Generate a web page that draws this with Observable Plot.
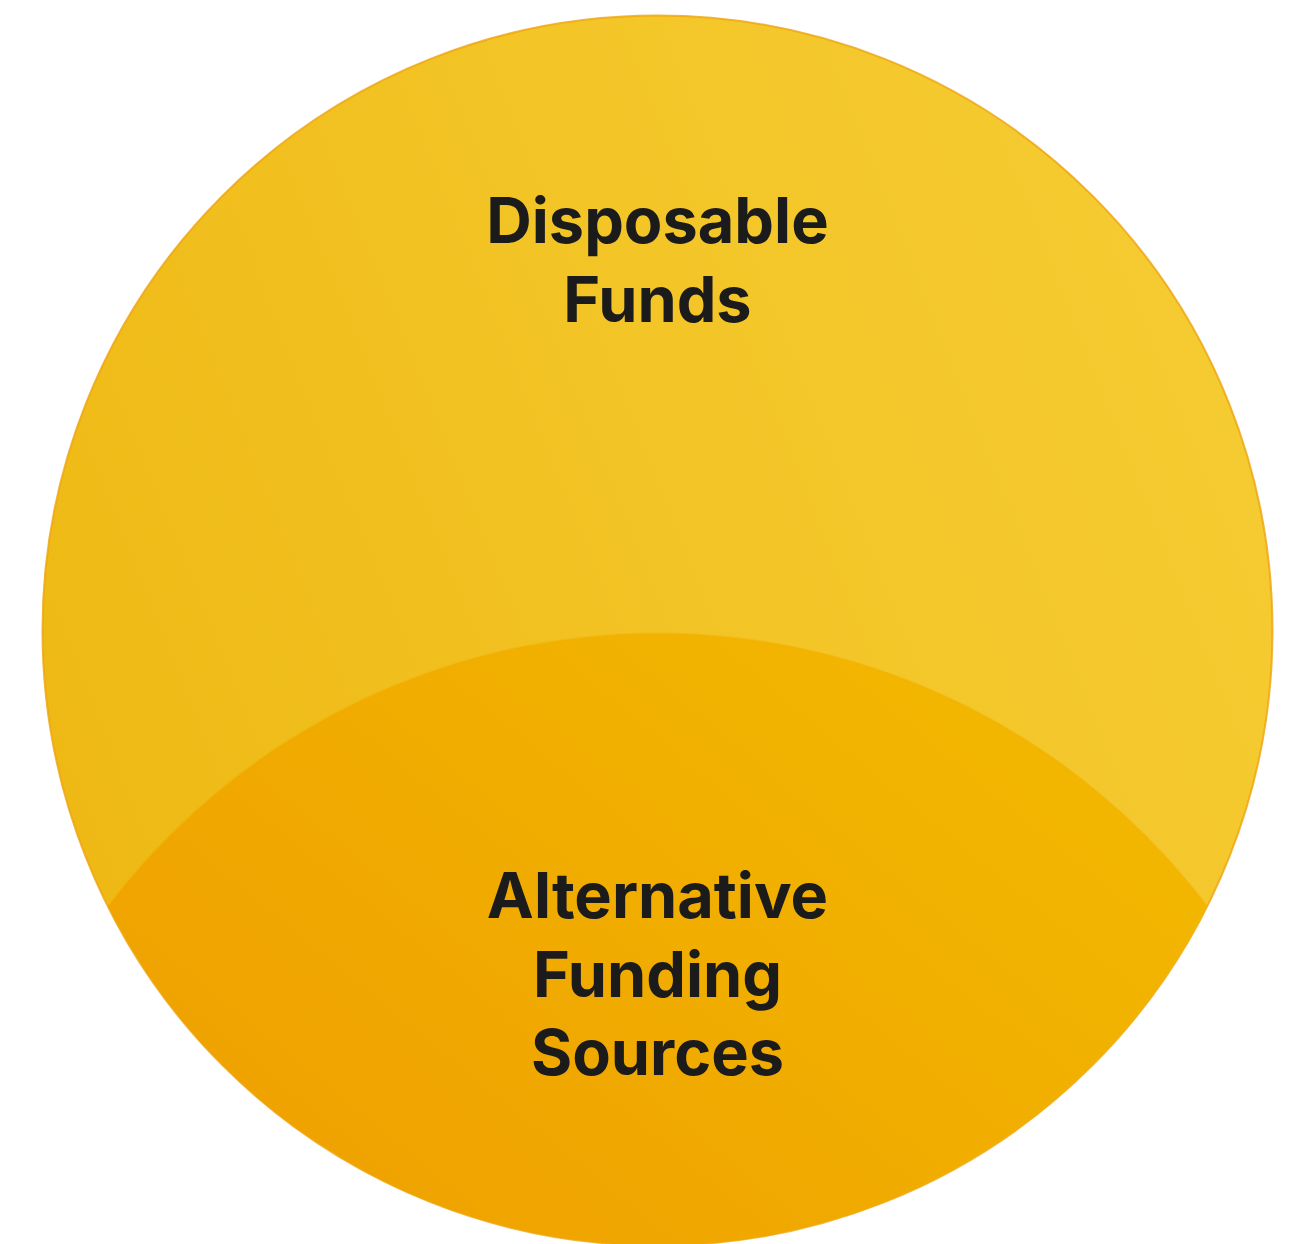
<!DOCTYPE html>
<html>
<head>
<meta charset="utf-8">
<script src="https://cdn.jsdelivr.net/npm/d3@7"></script>
<script src="https://cdn.jsdelivr.net/npm/@observablehq/plot@0.6"></script>
<style>
  html, body { margin: 0; padding: 0; background: #ffffff; }
  #chart svg { display: block; }
</style>
</head>
<body>
<div id="chart"></div>
<script>
// ---- data ----
const sets = ["Disposable Funds", "Alternative Funding Sources"];
const labels = ["Disposable\nFunds", "Alternative\nFunding\nSources"];
const centerX = [0, 0];
const centerY = [0, -1.127];
const radius = [1, 1.122];

const circles = sets.map((s, i) => ({set: s, label: labels[i], cx: centerX[i], cy: centerY[i], r: radius[i]}));
const outer = circles.filter((d, i) => i === 0);
const inner = circles.filter((d, i) => i === 1);

const defs = () => {
  const ns = "http://www.w3.org/2000/svg";
  const d = document.createElementNS(ns, "defs");
  d.innerHTML = `
    <linearGradient id="gOuter" x1="0" y1="0.6" x2="1" y2="0.2">
      <stop offset="0" stop-color="#EEB914"/>
      <stop offset="0.55" stop-color="#F3C527"/>
      <stop offset="1" stop-color="#F5CC33"/>
    </linearGradient>
    <linearGradient id="gInner" x1="0.8" y1="0" x2="0.35" y2="0.55">
      <stop offset="0" stop-color="#F3B900"/>
      <stop offset="1" stop-color="#EFA000"/>
    </linearGradient>`;
  return d;
};

const textStyle = {
  fontSize: 63, fontWeight: 700, fill: "#1b1b1b",
  fontFamily: "Inter, 'Noto Sans', sans-serif", lineHeight: 1.246, lineAnchor: "middle"
};

const chart = Plot.plot({
  width: 1301,
  height: 1244,
  margin: 0,
  x: {domain: [-1.0683, 1.0472], axis: null},
  y: {domain: [-0.9984, 1.0244], axis: null},
  r: {type: "linear", domain: [0, 1], range: [0, 615]},
  style: {background: "#ffffff"},
  marks: [
    defs,
    Plot.dot(outer, {x: "cx", y: "cy", r: "r", fill: "url(#gOuter)", stroke: "#EFA20A", strokeWidth: 2, strokeOpacity: 0.8}),
    Plot.dot(inner, {x: "cx", y: "cy", r: "r", fill: "url(#gInner)", stroke: "#F0B000", strokeWidth: 2, strokeOpacity: 0.4}),
    Plot.text(outer, {x: "cx", y: d => d.cy + 0.607 * d.r, text: "label", ...textStyle}),
    Plot.text(inner, {x: "cx", y: d => d.cy + 0.51 * d.r, text: "label", ...textStyle})
  ]
});

// clip the inner set to the outer circle, using the plot's own scales
const sx = chart.scale("x"), sy = chart.scale("y"), sr = chart.scale("r");
const ns = "http://www.w3.org/2000/svg";
const svgDefs = chart.querySelector("defs");
const cp = document.createElementNS(ns, "clipPath");
cp.setAttribute("id", "clipOuter");
const cc = document.createElementNS(ns, "circle");
cc.setAttribute("cx", sx.apply(outer[0].cx));
cc.setAttribute("cy", sy.apply(outer[0].cy));
cc.setAttribute("r", sr.apply(outer[0].r));
cp.appendChild(cc);
svgDefs.appendChild(cp);
const dotGroups = chart.querySelectorAll("g[aria-label='dot']");
dotGroups[1].setAttribute("clip-path", "url(#clipOuter)");

document.getElementById("chart").appendChild(chart);
</script>
</body>
</html>
